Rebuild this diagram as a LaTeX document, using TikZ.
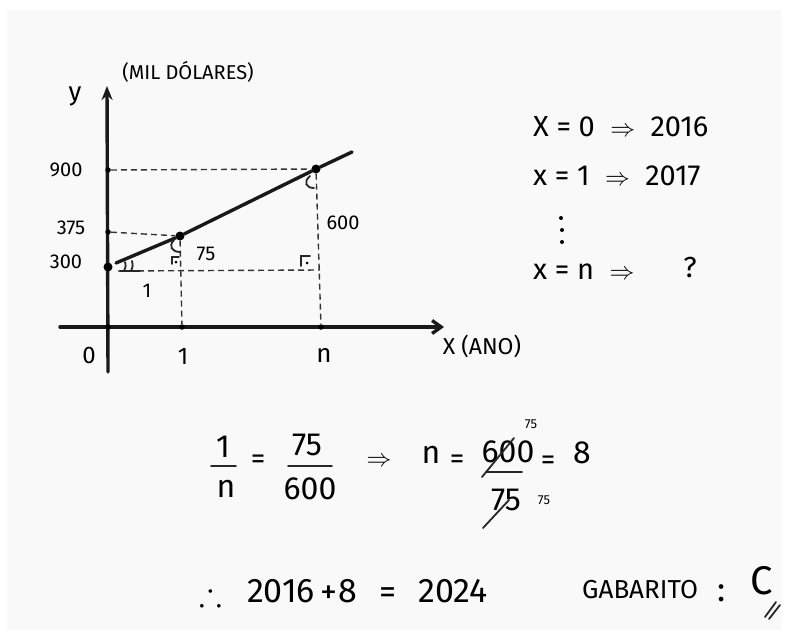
\documentclass[tikz,border=0pt]{standalone}
\usepackage{amssymb}
\usepackage{fontspec}
\setmainfont{Fira Sans}
\usetikzlibrary{arrows.meta}
\begin{document}
\begin{tikzpicture}[x=1pt,y=-1pt,
  ink/.style={draw=black!90,line width=3.4pt,line cap=round,line join=round},
  thin/.style={draw=black!85,line width=1.8pt,line cap=round},
  guide/.style={draw=black!80,line width=1.4pt,dash pattern=on 6pt off 4pt},
  dotpt/.style={circle,fill=black,inner sep=0pt,minimum size=9pt},
  tick/.style={circle,fill=black,inner sep=0pt,minimum size=5.5pt},
  lab/.style={font=\fontsize{20}{20}\selectfont,inner sep=0pt},
  txt/.style={font=\fontsize{29}{29}\selectfont,inner sep=0pt},
  big/.style={font=\fontsize{32}{32}\selectfont,inner sep=0pt},
  huge/.style={font=\fontsize{34}{34}\selectfont,inner sep=0pt},
  small/.style={font=\fontsize{13}{13}\selectfont,inner sep=0pt}]
\useasboundingbox (0,0) rectangle (787,637);
\fill[white] (0,0) rectangle (787,637);
\fill[black!2.5] (7,10) rectangle (781,630);

% axes
\coordinate (ybot) at (108,372);
\coordinate (ytop) at (107,86);
\coordinate (xl) at (60,327);
\coordinate (xr) at (444,327);
\draw[ink,-{Stealth[length=14pt,width=11pt]}] (ybot) -- (ytop);
\draw[ink,-{Straight Barb[length=9pt,width=13pt]}] (xl) -- (xr);

% points
\node[tick] (O) at (108,327) {};
\node[tick] (X1) at (182,327) {};
\node[tick] (Xn) at (321,327) {};
\node[tick] (t900) at (108,170) {};
\node[tick] (t375) at (108,232) {};
\node[dotpt] (P0) at (108,267) {};
\node[dotpt] (P1) at (180,236) {};
\node[dotpt] (Pn) at (316,169) {};
\coordinate (Ls) at (116,263);
\coordinate (Le) at (352,152);
\coordinate (H0) at (118,271);
\coordinate (Hn) at (320,270);

% guides
\draw[guide] (t900) -- (Pn);
\draw[guide] (t375) -- (P1);
\draw[guide] (P1) -- (X1);
\draw[guide] (Pn) -- (Xn);
\draw[guide] (H0) -- (Hn);

% line
\draw[ink] (Ls) -- (P1) -- (Pn) -- (Le);

% angle marks
\draw[thin] (124,271) .. controls (126,266) .. (125,262);
\draw[thin] (131,271) .. controls (133,266) .. (132,261);
\draw[thin] (120,271) -- (140,271);
\draw[thin] (174,240) .. controls (168,246) and (172,252) .. (180,252);
\draw[thin] (310,176) .. controls (303,182) and (306,188) .. (314,188);
% right-angle marks
\draw[thin] (172,264) -- (172,257) -- (179,257);
\fill (176,262) circle (1.5pt);
\draw[thin] (301,266) -- (301,256) -- (310,256);
\fill (307,263) circle (1.5pt);

% axis labels
\node[lab] (ylab) at (75,96) {\fontsize{26}{26}\selectfont y};
\node[lab] (units) at (188,72) {\fontsize{20}{20}\selectfont (MIL DÓLARES)};
\node[lab] (l900) at (66,170) {900};
\node[lab] (l375) at (71,228) {375};
\node[lab] (l300) at (66,262) {300};
\node[lab] (l0) at (89,355) {\fontsize{24}{24}\selectfont 0};
\node[lab] (l1) at (183,356) {\fontsize{24}{24}\selectfont 1};
\node[lab] (ln) at (324,355) {\fontsize{26}{26}\selectfont n};
\node[lab] (lx) at (482,346) {\fontsize{23}{23}\selectfont X (ANO)};
\node[lab] (l75) at (206,254) {75};
\node[lab] (l600) at (343,223) {600};
\node[lab] (lone) at (147,291) {1};

% right list
\node[txt,anchor=west] (r1) at (533,127) {X = 0 \ $\Rightarrow$ \ 2016};
\node[txt,anchor=west] (r2) at (533,176) {x = 1 \ $\Rightarrow$ \ 2017};
\fill (561,218) circle (2pt);
\fill (562,230) circle (2pt);
\fill (562,242) circle (2pt);
\node[txt,anchor=west] (r3) at (533,272) {x = n \ $\Rightarrow$};
\node[txt] (q) at (690,268) {?};

% equation row
\node[big] (f1n) at (223,447) {1};
\node[big] (f1d) at (226,489) {n};
\coordinate (b1a) at (211,466); \coordinate (b1b) at (236,466);
\draw[thin] (b1a) -- (b1b);
\node[txt] (e1) at (258,462) {=};
\node[big] (f2n) at (307,445) {75};
\node[big] (f2d) at (310,489) {600};
\coordinate (b2a) at (288,466); \coordinate (b2b) at (332,466);
\draw[thin] (b2a) -- (b2b);
\node[txt] (imp) at (379,462) {$\Rightarrow$};
\node[big] (nn) at (431,455) {n};
\node[txt] (e2) at (457,462) {=};
\node[big] (f3n) at (508,452) {600};
\node[big] (f3d) at (506,500) {75};
\coordinate (b3a) at (486,472); \coordinate (b3b) at (522,472);
\draw[thin] (b3a) -- (b3b);
\coordinate (s1a) at (482,477); \coordinate (s1b) at (514,438);
\draw[thin] (s1a) -- (s1b);
\coordinate (s2a) at (483,528); \coordinate (s2b) at (509,500);
\draw[thin] (s2a) -- (s2b);
\node[small] (sup75) at (531,424) {75};
\node[small] (sub75) at (544,500) {75};
\node[txt] (e3) at (548,463) {=};
\node[big] (eight) at (582,453) {8};

% final row
\node[huge] (there) at (211,594) {$\therefore$};
\node[huge] (y16) at (281,591) {2016};
\node[huge] (plus) at (329,595) {+};
\node[huge] (y8) at (348,591) {8};
\node[huge] (e4) at (388,596) {=};
\node[huge] (y24) at (453,591) {2024};
\node[font=\fontsize{26}{26}\selectfont,inner sep=0pt,anchor=west] (gab) at (582,590) {GABARITO};
\node[huge] (colon) at (722,593) {:};
\node[font=\fontsize{40}{40}\selectfont,inner sep=0pt] (cc) at (762,581) {C};
\coordinate (u1a) at (765,617) ; \coordinate (u1b) at (776,602);
\coordinate (u2a) at (769,619); \coordinate (u2b) at (780,605);
\draw[thin] (u1a) -- (u1b);
\draw[thin] (u2a) -- (u2b);
\end{tikzpicture}
\end{document}
